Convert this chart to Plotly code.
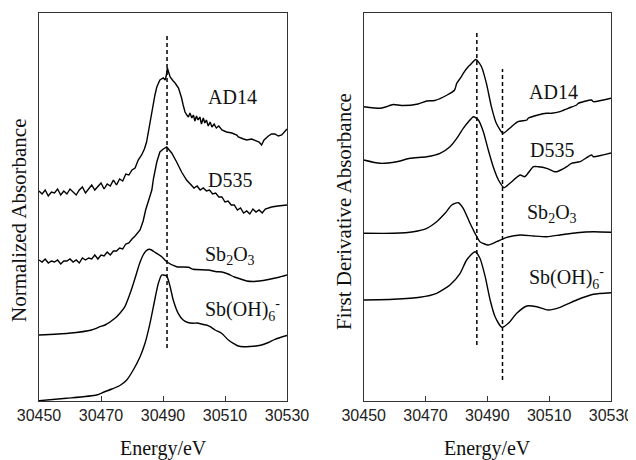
import plotly.graph_objects as go

# ---------------- Left panel: Normalized absorbance (stacked, arbitrary units) ----------------
ad14_norm_e = [30450, 30451, 30452, 30453, 30454, 30455, 30456, 30457, 30458, 30459, 30460, 30461, 30462,
               30463, 30464, 30465, 30466, 30467, 30468, 30469, 30470, 30471, 30472, 30473, 30474, 30475,
               30476, 30477, 30478, 30479, 30480, 30481, 30482, 30483.1, 30484.0, 30484.7, 30485.3, 30485.8,
               30486.4, 30486.9, 30487.4, 30488.0, 30488.5, 30489.0, 30490.1, 30490.7, 30491.1, 30491.4,
               30491.8, 30492.3, 30493.3, 30493.9, 30495.0, 30495.5, 30496.0, 30496.5, 30497.1, 30497.7,
               30498.2, 30498.7, 30499.3, 30499.8, 30500.3, 30500.8, 30501.3, 30501.9, 30502.4, 30503.0,
               30503.5, 30504.0, 30504.6, 30505.2, 30505.8, 30506.5, 30507.2, 30508, 30509, 30510.5, 30512.2,
               30513.8, 30514.3, 30516, 30517, 30518.6, 30520.2, 30521.0, 30521.8, 30522.6, 30524.0, 30525,
               30526.1, 30527.2, 30528.3, 30529.2, 30530]
ad14_norm_y = [210, 207, 211, 205, 209, 208, 212, 206, 210, 207, 212, 209, 206,
               211, 214, 208, 212, 216, 211, 214, 218, 212, 217, 215, 221, 216,
               222, 220, 227, 226, 231, 233, 241, 246, 252, 259, 270, 279,
               290, 296, 306, 314, 318, 321, 323, 321, 326, 333,
               329, 324, 320, 318, 313, 309, 303, 296, 289, 286,
               284, 288, 283, 286, 280, 285, 281, 284, 277, 283,
               278, 281, 275, 279, 274, 277, 273, 275, 271, 269, 268,
               266, 264, 262, 261, 262, 260, 259, 256, 261, 265, 267,
               267, 265, 266, 269, 272]

d535_norm_e = [30450, 30451, 30452, 30453, 30454, 30455, 30456, 30457, 30458, 30459, 30460, 30461, 30462,
               30463, 30464, 30465, 30466, 30467, 30468, 30469, 30470, 30471, 30472, 30473, 30474, 30475,
               30476, 30477, 30478, 30479, 30480, 30481, 30482.6, 30483.6, 30484.4, 30485.3, 30486.4,
               30486.9, 30488.0, 30489.0, 30490.1, 30491.2, 30492.8, 30494.4, 30496.0, 30497.6, 30499.3,
               30500, 30501, 30502, 30503, 30504, 30505, 30506, 30507, 30508, 30509, 30510, 30511, 30512,
               30513, 30514, 30515, 30516, 30517, 30518, 30519, 30520, 30521, 30522, 30523, 30524, 30525,
               30527, 30530]
d535_norm_y = [141, 139, 142, 138, 140, 139, 141, 137, 140, 140, 142, 139, 141,
               138, 143, 141, 143, 142, 146, 142, 146, 145, 149, 146, 150, 150,
               153, 152, 157, 158, 162, 165, 171, 180, 191, 200, 211,
               222, 239, 249, 252, 254, 248, 239, 229, 221, 216,
               213, 215, 211, 213, 210, 211, 207, 208, 204, 204, 199, 200, 196,
               196, 191, 193, 188, 190, 187, 192, 189, 191, 188, 192, 193, 194,
               195, 196]

sb2o3_norm_e = [30450, 30459.5, 30467.0, 30469.7, 30471.3, 30474.5, 30476.1, 30477.7, 30479.4, 30480.5,
                30481.5, 30482.5, 30483.6, 30484.5, 30485.5, 30486.3, 30487.0, 30488.0, 30489.6, 30491.2,
                30494.4, 30498.2, 30499.8, 30504.6, 30507.3, 30509, 30511, 30513, 30515, 30517, 30519,
                30521, 30524, 30527, 30530]
sb2o3_norm_y = [66, 67.7, 71, 74.3, 76, 82.7, 87.7, 94.3, 107.7, 118,
                128, 138, 146, 150, 151.7, 151, 149.5, 147.7, 144.3, 139.3,
                134.3, 133.7, 131.7, 131, 129.3, 129, 127, 124, 122, 120, 119.5,
                120, 121.5, 123.5, 126]

sboh6_norm_e = [30450, 30458.9, 30468.6, 30471, 30473.5, 30476.1, 30478.3, 30480.4, 30482.6, 30484.2,
                30485.8, 30486.9, 30488.5, 30489.6, 30490.1, 30491.2, 30492.3, 30493.3, 30494.9, 30496.5,
                30498, 30499.8, 30501, 30503.0, 30504, 30505.2, 30506.8, 30508.9, 30511.1, 30512.7,
                30514.3, 30516, 30518, 30520, 30521.8, 30524, 30526.1, 30530]
sboh6_norm_y = [0.3, 2.7, 6, 9, 12, 15.5, 21, 31, 44.3, 57.7,
                77.7, 94.3, 117.7, 126, 126, 125, 114.3, 101, 87.7, 81,
                78.5, 77.7, 78, 76.5, 76, 74.3, 71, 67.7, 61, 57.7,
                55, 54.3, 54.5, 55, 56, 58.5, 61.7, 65.5]

# ---------------- Right panel: First derivative absorbance (stacked, arbitrary units) ----------------
ad14_der_e = [30450, 30455.3, 30456.8, 30459.6, 30462.2, 30467.6, 30470.4, 30473.0, 30477.0, 30479.4,
              30480.1, 30481.6, 30482.2, 30483.8, 30484.4, 30486.3, 30488.1, 30489.7, 30491.3, 30492.9,
              30495.1, 30497.2, 30499.9, 30502.8, 30503.2, 30506.4, 30509.2, 30510.7, 30513.5, 30516.1,
              30518.9, 30519.4, 30523.7, 30524.3, 30530]
ad14_der_y = [294.3, 292.7, 293.7, 296.5, 295.5, 297, 300, 300.5, 306, 311,
              317.7, 324.3, 327.7, 334.3, 336, 341.5, 334.3, 317.7, 294.3, 277.7,
              267.7, 272.7, 279.3, 281, 282.7, 286, 287.7, 287.7, 289.3, 292.7,
              296, 297.7, 301, 299.3, 302.7]

d535_der_e = [30450, 30455.3, 30460.7, 30465.0, 30470.4, 30474.7, 30477.9, 30480.1, 30482.2, 30483.9,
              30485.5, 30487.1, 30488.7, 30490.3, 30491.9, 30493.6, 30495.4, 30497.3, 30500.6, 30502.1,
              30504.9, 30506.4, 30509.2, 30511.8, 30512.5, 30515.7, 30517.2, 30520.0, 30523.7, 30524.3,
              30530]
d535_der_y = [241, 237.7, 239.3, 242.7, 244.3, 247.7, 254.3, 262.7, 272.7, 279.3,
              284.3, 281, 269.3, 251, 234.3, 221, 213.3, 217.7, 226, 224.3,
              234.3, 234.3, 232.7, 229.3, 229.3, 234.3, 237.7, 239.3, 246, 244.3,
              248]

sb2o3_der_e = [30450, 30459.6, 30466.1, 30470.4, 30473.6, 30476.3, 30478.5, 30480.6, 30482.2, 30484.4,
               30486.0, 30487.6, 30490.3, 30493.0, 30496.3, 30500.6, 30504.9, 30509.2, 30513.5, 30518.9,
               30524.3, 30530]
sb2o3_der_y = [167.7, 167.7, 169.3, 172.7, 179.3, 187.7, 196, 198.3, 192.7, 177.7,
               167.7, 159.3, 156, 159.3, 163.7, 166, 165, 164.3, 166, 168.3,
               169.3, 168.7]

sboh6_der_e = [30450, 30459.6, 30468.2, 30473.6, 30477.9, 30481.2, 30483.3, 30486.0, 30487.6, 30489.3,
               30490.9, 30492.5, 30494.7, 30496.8, 30499.5, 30502.8, 30506.0, 30509.7, 30513.5, 30518.9,
               30524.3, 30530]
sboh6_der_y = [101, 101.7, 103.7, 107.7, 116, 127.7, 141, 149.3, 142.7, 124.3,
               101, 84.3, 73.7, 77.7, 87.7, 95, 94.3, 91, 93.7, 101,
               106.7, 108.3]

# reference lines (dashed)
left_ref_e = [30491.3]
left_ref_span = [53, 365]
right_ref_e = [30486.6, 30494.9]
right_ref_spans = [[56, 368], [21, 332]]

x_ticks = [30450, 30470, 30490, 30510, 30530]
x_tick_text = ["30450", "30470", "30490", "30510", "30530"]

labels = ["AD14", "D535", "Sb<sub>2</sub>O<sub>3</sub>", "Sb(OH)<sub>6</sub><sup>-</sup>"]
left_label_pos = [(30512.5, 304), (30511.5, 221), (30511.5, 145), (30515.8, 91)]
right_label_pos = [(30511.4, 309), (30510.8, 251), (30510.8, 187), (30515.6, 123)]

fig = go.Figure()
line_noisy = dict(color="black", width=1.4)
line_smooth = dict(color="black", width=1.4, shape="spline", smoothing=0.6)

for e, y, ls in [(ad14_norm_e, ad14_norm_y, line_noisy), (d535_norm_e, d535_norm_y, line_noisy),
                 (sb2o3_norm_e, sb2o3_norm_y, line_smooth), (sboh6_norm_e, sboh6_norm_y, line_smooth)]:
    fig.add_trace(go.Scatter(x=e, y=y, mode="lines", line=ls, xaxis="x", yaxis="y",
                             showlegend=False, hoverinfo="skip"))
for e, y in [(ad14_der_e, ad14_der_y), (d535_der_e, d535_der_y),
             (sb2o3_der_e, sb2o3_der_y), (sboh6_der_e, sboh6_der_y)]:
    fig.add_trace(go.Scatter(x=e, y=y, mode="lines", line=line_smooth, xaxis="x2", yaxis="y2",
                             showlegend=False, hoverinfo="skip"))

dash_style = dict(color="black", width=1.5, dash="4px,3px")
for e in left_ref_e:
    fig.add_trace(go.Scatter(x=[e, e], y=left_ref_span, mode="lines", line=dash_style,
                             xaxis="x", yaxis="y", showlegend=False, hoverinfo="skip"))
for e, span in zip(right_ref_e, right_ref_spans):
    fig.add_trace(go.Scatter(x=[e, e], y=span, mode="lines", line=dash_style,
                             xaxis="x2", yaxis="y2", showlegend=False, hoverinfo="skip"))

# page body has an 8px margin: the figure is drawn 8px in from the window edge
OFF = 8
W, H = 636 - OFF, 460 - OFF
serif = "Liberation Serif, Times New Roman, serif"
sans = "Liberation Sans, Arial, sans-serif"


def px(xp):
    return (xp - OFF) / W


def py(yp):
    return 1 - (yp - OFF) / H


xax = dict(range=[30450, 30530], tickvals=x_ticks, ticktext=x_tick_text, ticks="inside", ticklen=5,
           tickcolor="#333", tickwidth=1, showline=True, linecolor="#333", linewidth=1, mirror=True,
           showgrid=False, zeroline=False, automargin=False,
           tickfont=dict(family=sans, size=16, color="#222"))
yax = dict(range=[0, 388], showticklabels=False, ticks="", showline=True, linecolor="#333",
           linewidth=1, mirror=True, showgrid=False, zeroline=False, automargin=False)

y_dom = [py(401), py(13)]
fig.update_layout(
    width=W, height=H, autosize=False,
    margin=dict(l=0, r=0, t=0, b=0, pad=0, autoexpand=False),
    paper_bgcolor="white", plot_bgcolor="white", showlegend=False,
    xaxis=dict(xax, domain=[px(39), px(287)], anchor="y"),
    yaxis=dict(yax, domain=y_dom, anchor="x"),
    xaxis2=dict(xax, domain=[px(363.7), px(611)], anchor="y2"),
    yaxis2=dict(yax, domain=y_dom, anchor="x2"),
)

anns = []
for txt, (x, y) in zip(labels, left_label_pos):
    anns.append(dict(x=x, y=y, xref="x", yref="y", text=txt, showarrow=False,
                     font=dict(family=serif, size=20, color="#111"), xanchor="center", yanchor="middle"))
for txt, (x, y) in zip(labels, right_label_pos):
    anns.append(dict(x=x, y=y, xref="x2", yref="y2", text=txt, showarrow=False,
                     font=dict(family=serif, size=20, color="#111"), xanchor="center", yanchor="middle"))

# axis titles
anns.append(dict(x=px(163), y=py(448), xref="paper", yref="paper", text="Energy/eV", showarrow=False,
                 font=dict(family=serif, size=20, color="#111"), xanchor="center", yanchor="middle"))
anns.append(dict(x=px(487), y=py(448), xref="paper", yref="paper", text="Energy/eV", showarrow=False,
                 font=dict(family=serif, size=20, color="#111"), xanchor="center", yanchor="middle"))
anns.append(dict(x=px(19), y=py(220), xref="paper", yref="paper", text="Normalized Absorbance",
                 showarrow=False, textangle=-90,
                 font=dict(family=serif, size=21, color="#111"), xanchor="center", yanchor="middle"))
anns.append(dict(x=px(344), y=py(212), xref="paper", yref="paper", text="First Derivative Absorbance",
                 showarrow=False, textangle=-90,
                 font=dict(family=serif, size=21, color="#111"), xanchor="center", yanchor="middle"))
fig.update_layout(annotations=anns)

fig.write_html("out.html")
